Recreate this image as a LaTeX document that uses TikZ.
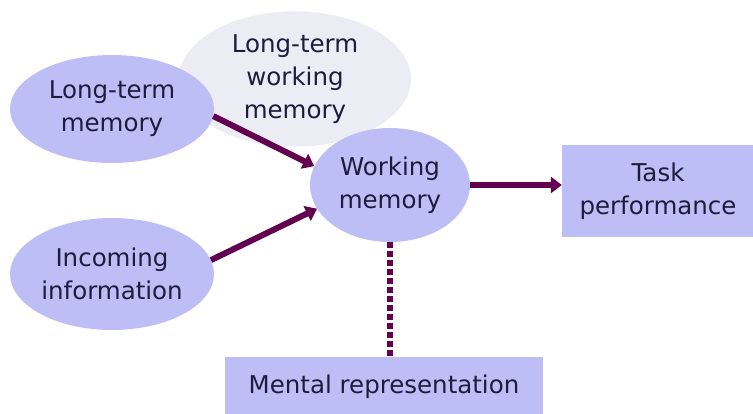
\documentclass[tikz,border=0pt]{standalone}
\usepackage{fontspec}
\setmainfont{DejaVu Sans}
\usetikzlibrary{shapes.geometric, arrows.meta}
\definecolor{lav}{RGB}{190,190,246}
\definecolor{pale}{RGB}{236,236,244}
\definecolor{plum}{RGB}{100,0,80}
\definecolor{ink}{RGB}{28,28,60}
\begin{document}
\begin{tikzpicture}[x=1pt, y=-1pt,
    every node/.style = {text=ink, font=\fontsize{24.5}{33}\selectfont, align=center},
    blob/.style = {ellipse, fill=lav, inner sep=0pt},
    box/.style = {rectangle, fill=lav, inner sep=0pt},
    link/.style = {plum, line width=6pt, -{Triangle[length=11pt, width=16pt]}}]
    \useasboundingbox (0,0) rectangle (753,414);
    \node[ellipse, fill=pale, minimum width=232pt, minimum height=128pt] (ltwm) at (295,79) {Long-term\\working\\memory};
    \node[blob, minimum width=204pt, minimum height=108pt] (ltm) at (112,109) {Long-term\\memory};
    \node[blob, minimum width=204pt, minimum height=112pt] (inc) at (112,274) {Incoming\\information};
    \node[blob, minimum width=160pt, minimum height=114pt] (wm) at (390,185) {Working\\memory};
    \node[box, minimum width=192pt, minimum height=92pt] (task) at (658,191) {Task\\performance};
    \node[box, minimum width=318pt, minimum height=60pt] (mr) at (384,387) {Mental representation};
    \draw[link] (ltm.356) -- (wm.166);
    \draw[link] (inc.8) -- (wm.198);
    \draw[link] (wm.east) -- (task.west |- wm.east);
    \draw[plum, line width=6pt, dash pattern=on 5.5pt off 3.5pt] (wm.south) -- (wm.south |- mr.north);
\end{tikzpicture}
\end{document}
